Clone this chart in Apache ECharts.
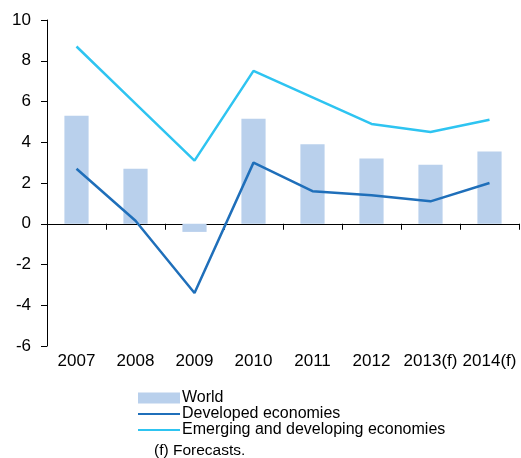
<!DOCTYPE html>
<html>
<head>
<meta charset="utf-8">
<script src="https://cdn.jsdelivr.net/npm/echarts@6/dist/echarts.min.js"></script>
<style>
  html, body { margin: 0; padding: 0; background: #fff; }
  #chart { width: 521px; height: 458px; }
</style>
</head>
<body>
<div id="chart"></div>
<script>
var years = ['2007', '2008', '2009', '2010', '2011', '2012', '2013(f)', '2014(f)'];
var world = [5.3, 2.7, -0.4, 5.15, 3.9, 3.2, 2.9, 3.55];
var developed = [2.7, 0.15, -3.4, 3.0, 1.6, 1.4, 1.1, 2.0];
var emerging = [8.7, 5.9, 3.1, 7.5, 6.2, 4.9, 4.5, 5.1];

(function() {
  var font = 'Liberation Sans, Arial, sans-serif';
  var ink = '#000';
  var chart = echarts.init(document.getElementById('chart'), null, { renderer: 'canvas' });

  chart.setOption({
    animation: false,
    textStyle: { fontFamily: font },
    grid: { left: 47, right: 2, top: 20, bottom: 112, containLabel: false, outerBoundsMode: 'none' },
    title: {
      text: '(f) Forecasts.',
      left: 154,
      top: 443,
      padding: 0,
      textStyle: { fontFamily: font, fontSize: 15.5, fontWeight: 'normal', color: ink }
    },
    legend: {
      orient: 'vertical',
      left: 137,
      top: 390,
      itemGap: 0,
      itemWidth: 42,
      itemHeight: 11,
      padding: 0,
      textStyle: { fontFamily: font, fontSize: 16, color: ink, lineHeight: 16, padding: [0, 0, 0, -3] },
      data: [
        { name: 'World', icon: 'rect' },
        { name: 'Developed economies', itemStyle: { opacity: 0 } },
        { name: 'Emerging and developing economies', itemStyle: { opacity: 0 } }
      ]
    },
    xAxis: [
      {
        // zero line with ticks
        type: 'category',
        data: years,
        axisLine: { onZero: true, lineStyle: { color: ink, width: 1 } },
        axisTick: { show: true, length: 6, lineStyle: { color: ink } },
        axisLabel: { show: false },
        splitLine: { show: false }
      },
      {
        // year labels along the bottom
        type: 'category',
        data: years,
        position: 'bottom',
        axisLine: { show: false, onZero: false },
        axisTick: { show: false },
        axisLabel: { color: ink, fontSize: 17, margin: 7, interval: 0 },
        splitLine: { show: false }
      }
    ],
    yAxis: {
      type: 'value',
      min: -6,
      max: 10,
      interval: 2,
      axisLine: { show: true, lineStyle: { color: ink, width: 1 } },
      axisTick: { show: true, length: 6, lineStyle: { color: ink } },
      axisLabel: { color: ink, fontSize: 17, margin: 16 },
      splitLine: { show: false }
    },
    series: [
      {
        name: 'World',
        type: 'bar',
        data: world,
        barWidth: '41%',
        itemStyle: { color: '#b9d0ec' }
      },
      {
        name: 'Developed economies',
        type: 'line',
        data: developed,
        symbol: 'none',
        lineStyle: { color: '#1f6fba', width: 2.5 },
        itemStyle: { color: '#1f6fba' },
        z: 5
      },
      {
        name: 'Emerging and developing economies',
        type: 'line',
        data: emerging,
        symbol: 'none',
        lineStyle: { color: '#2ec4f1', width: 2.5 },
        itemStyle: { color: '#2ec4f1' },
        z: 5
      }
    ]
  });
})();
</script>
</body>
</html>
